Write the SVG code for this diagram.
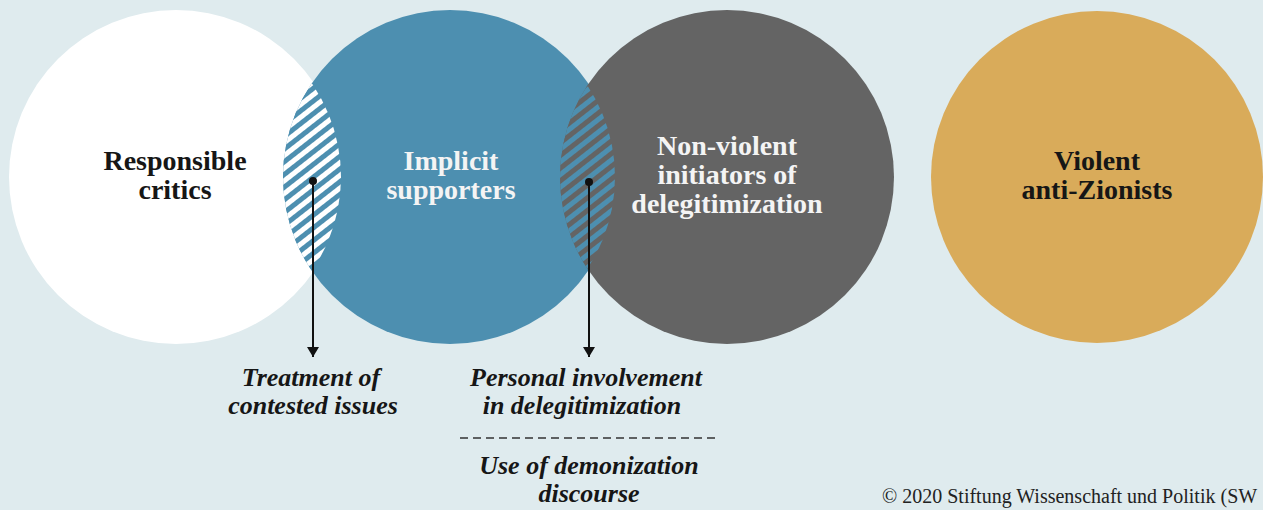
<svg xmlns="http://www.w3.org/2000/svg" width="1263" height="510" viewBox="0 0 1263 510">
  <style>
    .title { font-family: "Liberation Serif", "Times New Roman", serif; font-weight: bold; font-size: 28px; text-anchor: middle; }
    .dark { fill: #161616; }
    .light { fill: #f4f4f4; }
    .label { font-family: "Liberation Serif", "Times New Roman", serif; font-style: italic; font-weight: bold; font-size: 26px; fill: #161616; text-anchor: middle; }
    .credit { font-family: "Liberation Serif", "Times New Roman", serif; font-size: 20px; fill: #222222; }
    .conn { stroke: #111111; stroke-width: 2; fill: none; }
  </style>
  <defs>
    <clipPath id="clipBlue"><circle cx="450" cy="177" r="167"/></clipPath>
    <clipPath id="clipGrey"><circle cx="727" cy="177" r="167"/></clipPath>
    <pattern id="hatchWB" patternUnits="userSpaceOnUse" width="10" height="10" patternTransform="rotate(-38)">
      <rect width="10" height="10" fill="#ffffff"/>
      <rect width="10" height="5" fill="#4d8fb0"/>
    </pattern>
    <pattern id="hatchBG" patternUnits="userSpaceOnUse" width="10" height="10" patternTransform="rotate(-38)">
      <rect width="10" height="10" fill="#646464"/>
      <rect width="10" height="5" fill="#4d8fb0"/>
    </pattern>
    <marker id="arrow" viewBox="0 0 10 12" refX="10" refY="6" markerWidth="10" markerHeight="12" markerUnits="userSpaceOnUse" orient="auto">
      <path d="M0,0 L10,6 L0,12 Z" fill="#111111"/>
    </marker>
  </defs>
  <rect width="1263" height="510" fill="#dfebee"/>

  <g id="responsible-critics">
    <circle cx="176" cy="177" r="167" fill="#ffffff"/>
    <text class="title dark" x="175" y="170">Responsible</text>
    <text class="title dark" x="175" y="199">critics</text>
  </g>
  <g id="implicit-supporters">
    <circle cx="450" cy="177" r="167" fill="#4d8fb0"/>
    <text class="title light" x="451" y="170">Implicit</text>
    <text class="title light" x="451" y="199">supporters</text>
  </g>
  <g id="overlap-critics-supporters">
    <circle cx="176" cy="177" r="165" fill="url(#hatchWB)" clip-path="url(#clipBlue)"/>
  </g>
  <g id="non-violent-initiators">
    <circle cx="727" cy="177" r="167" fill="#646464"/>
    <text class="title light" x="727" y="155">Non-violent</text>
    <text class="title light" x="727" y="184">initiators of</text>
    <text class="title light" x="727" y="213">delegitimization</text>
  </g>
  <g id="overlap-supporters-initiators">
    <circle cx="450" cy="177" r="165" fill="url(#hatchBG)" clip-path="url(#clipGrey)"/>
  </g>
  <g id="violent-anti-zionists">
    <circle cx="1097" cy="177" r="166" fill="#d9ab5a"/>
    <text class="title dark" x="1097" y="170">Violent</text>
    <text class="title dark" x="1097" y="199">anti-Zionists</text>
  </g>

  <g id="connectors">
    <circle cx="313" cy="181" r="4" fill="#111111"/>
    <line class="conn" x1="313" y1="181" x2="313" y2="357" marker-end="url(#arrow)"/>
    <circle cx="589" cy="182" r="4" fill="#111111"/>
    <line class="conn" x1="589" y1="182" x2="589" y2="357" marker-end="url(#arrow)"/>
    <line x1="460" y1="438" x2="718" y2="438" stroke="#333333" stroke-width="1.5" stroke-dasharray="8 5"/>
  </g>

  <g id="label-contested">
    <text class="label" x="311" y="386">Treatment of</text>
    <text class="label" x="313" y="414">contested issues</text>
  </g>
  <g id="label-involvement">
    <text class="label" x="586" y="386">Personal involvement</text>
    <text class="label" x="582" y="414">in delegitimization</text>
  </g>
  <g id="label-demonization">
    <text class="label" x="589" y="474">Use of demonization</text>
    <text class="label" x="589" y="502">discourse</text>
  </g>

  <text class="credit" x="882" y="503">© 2020 Stiftung Wissenschaft und Politik (SW</text>
</svg>
